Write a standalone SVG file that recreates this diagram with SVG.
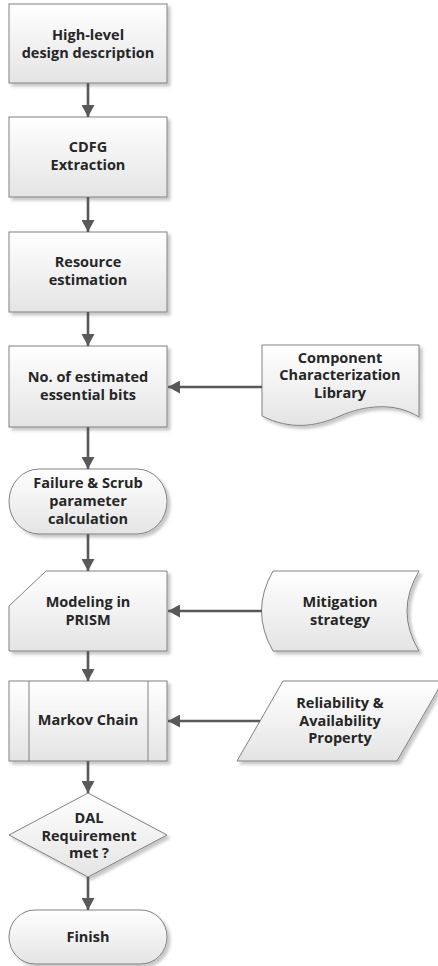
<svg xmlns="http://www.w3.org/2000/svg" width="438" height="966" viewBox="0 0 438 966">
<defs>
<linearGradient id="fillG" x1="0" y1="0" x2="0" y2="1">
<stop offset="0" stop-color="#ffffff"/>
<stop offset="1" stop-color="#e4e4e4"/>
</linearGradient>
<filter id="sh" x="-10%" y="-10%" width="125%" height="130%">
<feDropShadow dx="3" dy="3" stdDeviation="1.5" flood-color="#000" flood-opacity="0.22"/>
</filter>
<marker id="ah" markerUnits="userSpaceOnUse" markerWidth="12" markerHeight="13" refX="12" refY="6.5" orient="auto">
<path d="M0,0 L12,6.5 L0,13 Z" fill="#595959"/>
</marker>
<style>
.s{fill:url(#fillG);stroke:#808080;stroke-width:1;filter:url(#sh)}
.l{fill:none;stroke:#808080;stroke-width:1}
.t{font-family:"Open Sans","Liberation Sans",sans-serif;font-weight:bold;font-size:14.5px;fill:#262626;text-anchor:middle}
.c{fill:none;stroke:#595959;stroke-width:2.6;marker-end:url(#ah)}
</style>
</defs>
<g id="n1">
<rect class="s" x="9" y="4" width="158" height="79"/>
<text class="t" x="88" y="40">High-level</text>
<text class="t" x="88" y="57.5">design description</text>
</g>
<g id="n2">
<rect class="s" x="9" y="117" width="158" height="80"/>
<text class="t" x="88" y="152">CDFG</text>
<text class="t" x="88" y="169.5">Extraction</text>
</g>
<g id="n3">
<rect class="s" x="9" y="232" width="158" height="80"/>
<text class="t" x="88" y="267">Resource</text>
<text class="t" x="88" y="284.5">estimation</text>
</g>
<g id="n4">
<rect class="s" x="9" y="346" width="158" height="81"/>
<text class="t" x="88" y="382">No. of estimated</text>
<text class="t" x="88" y="399.5">essential bits</text>
</g>
<g id="n5">
<path class="s" d="M262,345 H419 V417 C395,402 365,405 340,416 C315,427 290,430 262,416 Z"/>
<text class="t" x="340" y="362.5">Component</text>
<text class="t" x="340" y="380">Characterization</text>
<text class="t" x="340" y="397.5">Library</text>
</g>
<g id="n6">
<rect class="s" x="9" y="469" width="158" height="65" rx="30" ry="32.5"/>
<text class="t" x="88" y="488">Failure &amp; Scrub</text>
<text class="t" x="88" y="506">parameter</text>
<text class="t" x="88" y="524">calculation</text>
</g>
<g id="n7">
<path class="s" d="M46,571 H167 V651 H9 V606 Z"/>
<text class="t" x="88" y="607">Modeling in</text>
<text class="t" x="88" y="625">PRISM</text>
</g>
<g id="n8">
<path class="s" d="M273,571 H419 Q395,611 419,651 H273 Q250,611 273,571 Z"/>
<text class="t" x="340" y="607">Mitigation</text>
<text class="t" x="340" y="625">strategy</text>
</g>
<g id="n9">
<rect class="s" x="9" y="681" width="158" height="80"/>
<line class="l" x1="29" y1="681" x2="29" y2="761"/>
<line class="l" x1="148" y1="681" x2="148" y2="761"/>
<text class="t" x="88" y="725">Markov Chain</text>
</g>
<g id="n10">
<path class="s" d="M283,681 H443 L397,761 H237 Z"/>
<text class="t" x="340" y="708">Reliability &amp;</text>
<text class="t" x="340" y="725.5">Availability</text>
<text class="t" x="340" y="743">Property</text>
</g>
<g id="n11">
<path class="s" d="M88,793 L167,835 L88,877 L9,835 Z"/>
<text class="t" x="89" y="822.5">DAL</text>
<text class="t" x="89" y="840.5">Requirement</text>
<text class="t" x="89" y="858">met ?</text>
</g>
<g id="n12">
<rect class="s" x="9" y="910" width="158" height="54" rx="26" ry="27"/>
<text class="t" x="88" y="942">Finish</text>
</g>
<g id="connectors">
<line class="c" x1="88" y1="83" x2="88" y2="117"/>
<line class="c" x1="88" y1="197" x2="88" y2="232"/>
<line class="c" x1="88" y1="312" x2="88" y2="346"/>
<line class="c" x1="262" y1="387" x2="168" y2="387"/>
<line class="c" x1="88" y1="427" x2="88" y2="469"/>
<line class="c" x1="88" y1="534" x2="88" y2="571"/>
<line class="c" x1="262" y1="611" x2="168" y2="611"/>
<line class="c" x1="88" y1="651" x2="88" y2="681"/>
<line class="c" x1="260" y1="721" x2="168" y2="721"/>
<line class="c" x1="88" y1="761" x2="88" y2="793"/>
<line class="c" x1="88" y1="877" x2="88" y2="910"/>
</g>
</svg>
